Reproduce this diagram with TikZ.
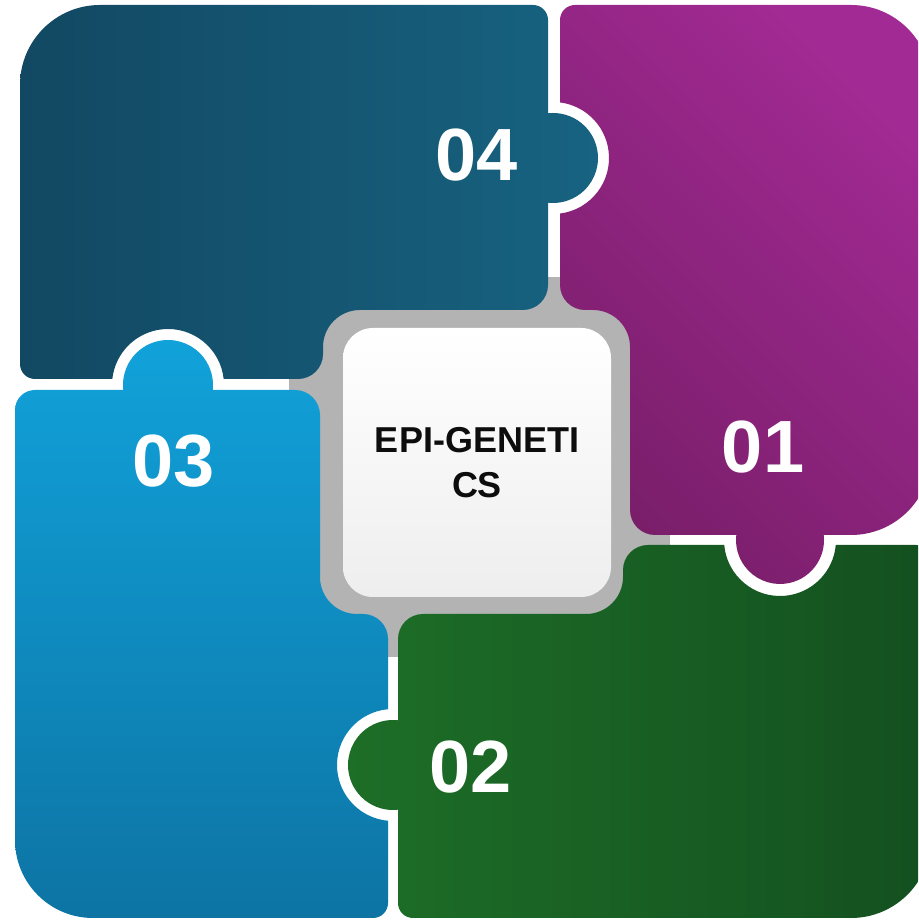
\documentclass[tikz,border=0pt]{standalone}
\usepackage{fontspec}
\setmainfont{Liberation Sans}
\definecolor{tealL}{RGB}{18,72,98}
\definecolor{tealR}{RGB}{23,99,129}
\definecolor{plumA}{RGB}{162,42,148}
\definecolor{plumB}{RGB}{122,30,106}
\definecolor{skyT}{RGB}{17,162,218}
\definecolor{skyB}{RGB}{13,116,164}
\definecolor{leafL}{RGB}{29,110,39}
\definecolor{leafR}{RGB}{20,80,32}
\definecolor{hub}{RGB}{179,179,179}
\definecolor{coreB}{RGB}{238,238,238}
\begin{document}
\begin{tikzpicture}[x=1pt,y=1pt,
  num/.style={text=white, font=\fontsize{74}{74}\selectfont\bfseries, anchor=base, inner sep=0pt},
  corebox/.style={top color=white, bottom color=coreB, rounded corners=30pt,
    minimum width=268pt, minimum height=269pt, inner sep=0pt,
    align=center, text=black!95, font=\fontsize{36}{45}\selectfont\bfseries}]
\useasboundingbox (0,0) rectangle (918,920);
\clip (0,0) rectangle (918,920);

% grey hub behind the four pieces
\fill[hub] (289,263) rectangle (670,643);

% piece 04 (top left)
\shade[left color=tealL, right color=tealR]
  (20,835) arc[start angle=180, end angle=90, radius=80]
  -- (533,915) arc[start angle=90, end angle=0, radius=15]
  -- (548,806.72) arc[start angle=96.38, end angle=-96.38, radius=45]
  -- (548,635) arc[start angle=0, end angle=-90, radius=25]
  -- (360,610) arc[start angle=90, end angle=180, radius=37]
  -- (323,566) arc[start angle=0, end angle=-90, radius=25]
  -- (223.68,541) arc[start angle=6.15, end angle=173.85, radius=56]
  -- (35,541) arc[start angle=270, end angle=180, radius=15]
  -- cycle;

% piece 01 (top right)
\shade[top color=plumA, bottom color=plumB, shading angle=-45]
  (560,900) arc[start angle=180, end angle=90, radius=15]
  -- (851,915) arc[start angle=90, end angle=0, radius=80]
  -- (931,465) arc[start angle=0, end angle=-90, radius=80]
  -- (823.72,385) arc[start angle=6.52, end angle=-186.52, radius=44]
  -- (655,385) arc[start angle=270, end angle=180, radius=25]
  -- (630,573) arc[start angle=0, end angle=90, radius=37]
  -- (585,610) arc[start angle=270, end angle=180, radius=25]
  -- (560,706.44) arc[start angle=-82.82, end angle=82.82, radius=56]
  -- cycle;

% piece 03 (bottom left)
\shade[top color=skyT, bottom color=skyB]
  (15,510) arc[start angle=180, end angle=90, radius=20]
  -- (123.28,530) arc[start angle=186.38, end angle=-6.38, radius=45]
  -- (295,530) arc[start angle=90, end angle=0, radius=25]
  -- (320,343) arc[start angle=180, end angle=270, radius=37]
  -- (363,306) arc[start angle=90, end angle=0, radius=25]
  -- (388,210.78) arc[start angle=95.12, end angle=264.88, radius=56]
  -- (388,17) arc[start angle=0, end angle=-90, radius=15]
  -- (93,2) arc[start angle=270, end angle=180, radius=78]
  -- cycle;

% piece 02 (bottom right)
\shade[left color=leafL, right color=leafR]
  (623,350) arc[start angle=180, end angle=90, radius=25]
  -- (724.22,375) arc[start angle=185.12, end angle=354.88, radius=56]
  -- (916,375) arc[start angle=90, end angle=0, radius=15]
  -- (931,82) arc[start angle=0, end angle=-90, radius=80]
  -- (413,2) arc[start angle=270, end angle=180, radius=15]
  -- (398,110.28) arc[start angle=276.38, end angle=83.62, radius=45]
  -- (398,281) arc[start angle=180, end angle=90, radius=25]
  -- (586,306) arc[start angle=-90, end angle=0, radius=37]
  -- cycle;

% central card
\node[corebox] (core) at (477,457.5) {EPI-GENETI\\CS};

% piece numbers
\node[num] (n04) at (477,739) {04};
\node[num] (n01) at (763,447) {01};
\node[num] (n03) at (174,433) {03};
\node[num] (n02) at (471,127) {02};
\end{tikzpicture}
\end{document}
